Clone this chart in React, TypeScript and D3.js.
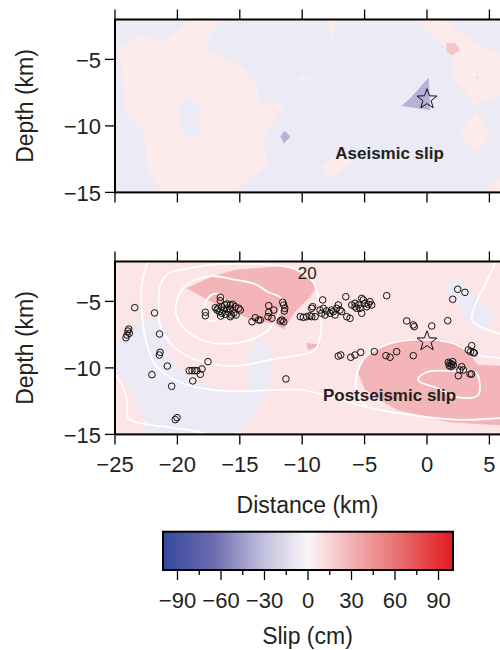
import React from 'react';
import * as d3 from 'd3';

// ---------- axes ----------
const X_DOMAIN: [number, number] = [-25, 10];
const DEPTH_DOMAIN: [number, number] = [-15, -2];
const X_TICKS = [-25, -20, -15, -10, -5, 0, 5];
const DEPTH_TICKS = [-5, -10, -15];
const SLIP_TICKS = [-90, -60, -30, 0, 30, 60, 90];
const SLIP_MINOR = [-75, -45, -15, 15, 45, 75];
const SLIP_RANGE: [number, number] = [-100, 100];
const HYPOCENTER: [number, number] = [0, -8];

// ---------- aseismic slip (cm) ----------
const aseismicBackground = -6;
const aseismicPatches: { slip: number; pts: [number, number][] }[] = [
  { slip: 5, pts: [[-24.74, -4.17], [-23.13, -3.17], [-21.13, -3.67], [-19.25, -2.29], [-19.25, -1.8], [-16.05, -1.8], [-17.39, -3.04], [-17.65, -4.42], [-16.19, -5.05], [-15.38, -5.17], [-14.45, -6.05], [-13.65, -7.05], [-13.52, -8.3], [-11.51, -8.43], [-13.12, -10.68], [-12.84, -12.94], [-14.18, -13.94], [-15.79, -15.2], [-21.13, -15.2], [-22.46, -12.94], [-22.6, -10.56], [-24.2, -8.93], [-24.33, -6.17]] },
  { slip: -6, pts: [[-20.06, -8.5], [-19.23, -7.83], [-18.19, -8.5], [-18.19, -10.68], [-19.23, -10.83], [-19.66, -10.23]] },
  { slip: -25, pts: [[-11.42, -10.38], [-10.98, -10.8], [-11.45, -11.31], [-11.72, -10.8]] },
  { slip: 5, pts: [[-8.04, -1.8], [-6.97, -1.8], [-7.64, -3.41]] },
  { slip: 5, pts: [[-10.34, -6.3], [-9.8, -6.15], [-9.24, -6.38], [-9.64, -6.68], [-10.34, -6.55]] },
  { slip: -25, pts: [[0.11, -6.42], [0.24, -8.8], [-2.03, -8.48], [-1.4, -8.0]] },
  { slip: 5, pts: [[-0.96, -1.8], [1.12, -1.8], [2.8, -3.09], [4.65, -4.17], [7.45, -5.2], [7.45, -6.92], [3.98, -8.43], [2.11, -6.3], [2.11, -4.52], [0.24, -3.17]] },
  { slip: 18, pts: [[1.58, -3.79], [2.24, -3.79], [2.64, -4.29], [1.98, -4.67], [1.58, -4.38]] },
  { slip: 18, pts: [[4.03, -6.3], [4.12, -6.38], [4.03, -6.46], [3.94, -6.38]] },
  { slip: 5, pts: [[3.98, -8.93], [5.05, -10.68], [3.98, -11.94], [2.64, -10.68]] },
  { slip: 5, pts: [[-8.44, -13.07], [-7.11, -12.19], [-6.03, -12.69], [-7.64, -13.94]] },
  { slip: 5, pts: [[4.25, -15.2], [5.85, -13.9], [7.45, -13.5], [7.45, -15.2]] },
];

// ---------- postseismic slip (cm) ----------
const postseismicBackground = 9;
const postseismicPatches: { slip: number; pts: [number, number][] }[] = [
  { slip: -6, pts: [[-25.2, -8.5], [-23.96, -7.45], [-23.0, -6.55], [-21.39, -6.4], [-20.91, -7.15], [-20.59, -9.03], [-19.79, -10.31], [-18.19, -11.21], [-15.95, -11.66], [-14.42, -11.81], [-14.34, -9.41], [-14.18, -8.65], [-13.54, -7.9], [-12.9, -7.9], [-12.58, -8.8], [-12.58, -11.06], [-13.22, -12.41], [-14.18, -13.77], [-15.3, -15.2], [-22.2, -15.2], [-22.52, -14.29], [-23.0, -13.17], [-23.8, -11.66], [-24.76, -10.31], [-25.2, -10.01]] },
  { slip: -6, pts: [[1.24, -4.02], [2.04, -3.14], [3.65, -4.27], [5.53, -6.27], [4.17, -7.4], [3.12, -6.32], [2.32, -5.02]] },
  { slip: 28, pts: [[-19.23, -4.02], [-17.23, -3.14], [-15.36, -2.64], [-11.62, -2.38], [-9.91, -2.77], [-8.84, -3.89], [-9.38, -4.65], [-10.58, -5.77], [-11.51, -7.08], [-12.18, -6.65], [-14.02, -6.4], [-14.56, -6.15], [-17.23, -5.02]] },
  { slip: 28, pts: [[-9.64, -8.15], [-8.57, -8.28], [-9.51, -8.65]] },
  { slip: 28, pts: [[-5.53, -10.31], [-4.97, -9.18], [-4.01, -8.5], [-2.16, -7.9], [0.48, -7.75], [1.84, -8.05], [2.8, -8.28], [4.09, -9.78], [5.85, -9.86], [7.45, -9.86], [7.45, -14.52], [5.85, -14.29], [4.49, -14.22], [1.84, -14.07], [-0.8, -13.47], [-2.32, -13.17], [-3.21, -12.71], [-4.97, -11.59]] },
];

// white contour lines of the slip model
const slipContours: { closed: boolean; pts: [number, number][] }[] = [
  { closed: true, pts: [[-17.39, -4.59], [-16.75, -4.44], [-16.27, -4.82], [-16.43, -5.79], [-16.99, -6.47], [-17.71, -6.32], [-17.87, -5.5]] },
  { closed: true, pts: [[-20.03, -4.89], [-19.47, -3.92], [-18.43, -3.32], [-17.23, -3.09], [-15.63, -3.32], [-13.78, -3.69], [-12.74, -4.29], [-11.62, -4.82], [-11.86, -5.87], [-12.74, -7.15], [-14.02, -7.83], [-16.43, -8.2], [-18.19, -7.83], [-19.47, -7.0], [-20.11, -5.95]] },
  { closed: true, pts: [[-20.7, -2.89], [-19.09, -2.51], [-17.23, -2.23], [-14.98, -2.15], [-12.42, -2.26], [-10.58, -2.56], [-9.13, -3.54], [-8.65, -4.89], [-8.49, -7.15], [-8.97, -8.65], [-10.18, -9.03], [-12.18, -9.33], [-15.14, -9.85], [-17.23, -9.71], [-19.07, -9.18], [-20.59, -8.13], [-21.39, -6.77], [-21.5, -5.05], [-21.37, -3.77]] },
  { closed: false, pts: [[-22.25, -1.7], [-22.7, -3.02], [-22.89, -4.27], [-22.84, -5.77], [-22.57, -7.77], [-21.77, -9.78], [-19.9, -11.04], [-17.23, -11.65], [-14.56, -11.74], [-11.88, -11.65], [-10.02, -11.65], [-7.37, -12.26], [-4.57, -13.01], [-0.8, -13.61], [2.64, -13.91], [5.85, -13.77], [7.45, -13.69]] },
  { closed: false, pts: [[7.45, -9.56], [5.85, -9.26], [4.01, -9.03], [2.24, -8.2], [0.48, -7.9], [-2.16, -7.98], [-4.01, -8.58], [-5.05, -9.33], [-5.61, -10.46], [-5.69, -11.51], [-5.37, -12.41], [-4.73, -12.94]] },
  { closed: false, pts: [[-25.2, -10.2], [-24.44, -11.29], [-24.04, -12.41], [-23.96, -13.77], [-23.0, -14.15], [-20.19, -14.52], [-18.19, -14.82], [-16.99, -15.2]] },
  { closed: false, pts: [[5.65, -1.7], [4.73, -3.62], [3.93, -5.12], [3.61, -6.47], [4.73, -7.08], [5.85, -7.45], [7.45, -7.9]] },
  { closed: true, pts: [[-0.72, -10.83], [0.0, -10.31], [1.84, -10.23], [3.93, -10.38], [4.09, -12.04], [2.4, -12.19], [0.8, -11.51], [-0.56, -11.06]] },
];
const contourLabel = { text: '20', x: -9.6, depth: -3.3 };

// aftershocks [distance km, depth km]
const aftershocks: [number, number][] = [
  [-23.42, -5.47], [-21.83, -5.87], [-23.9, -7.08], [-23.96, -7.23], [-23.85, -7.4], [-24.04, -7.53], [-24.12, -7.73],
  [-21.43, -7.45], [-21.39, -8.83], [-21.45, -9.03], [-20.81, -9.86], [-22.04, -10.51], [-20.46, -11.38], [-20.17, -13.89],
  [-20.03, -13.74], [-18.77, -10.98], [-19.05, -10.21], [-18.83, -10.21], [-18.61, -10.21], [-18.43, -10.21], [-18.03, -10.08],
  [-18.17, -10.48], [-17.55, -9.53], [-17.76, -5.82], [-17.76, -6.08],
  [-16.56, -4.69], [-16.56, -4.95], [-16.96, -5.47], [-16.75, -5.52], [-16.43, -5.4], [-16.21, -5.27], [-16.03, -5.2],
  [-15.76, -5.27], [-15.57, -5.22], [-15.36, -5.4], [-15.09, -5.52], [-14.96, -5.65], [-16.64, -5.77], [-16.43, -5.89],
  [-16.16, -5.97], [-15.89, -5.82], [-15.68, -6.02], [-15.49, -5.89], [-15.3, -6.02], [-16.03, -5.57], [-16.29, -5.65],
  [-15.76, -5.57], [-16.53, -6.1], [-15.76, -6.15], [-16.83, -5.65],
  [-13.76, -6.23], [-14.02, -6.53], [-13.49, -6.4], [-13.36, -6.4], [-12.68, -5.32], [-12.68, -5.82], [-12.28, -5.65],
  [-12.74, -6.15], [-12.42, -6.27], [-11.56, -5.07], [-11.48, -5.27], [-11.4, -5.52], [-11.43, -5.72], [-11.62, -6.4],
  [-11.48, -6.53], [-11.75, -6.47], [-10.15, -6.15], [-11.3, -10.83],
  [-9.91, -6.2], [-9.64, -6.15], [-9.38, -6.08], [-9.24, -6.15], [-8.97, -6.15], [-9.24, -5.52], [-9.16, -5.4],
  [-8.57, -5.65], [-8.44, -5.89], [-8.31, -5.52], [-8.17, -6.02], [-8.04, -5.72], [-7.77, -5.89], [-7.64, -5.65],
  [-7.51, -5.77], [-7.37, -6.02], [-7.24, -5.52], [-7.11, -5.27], [-6.97, -5.65], [-6.84, -5.77], [-8.36, -4.89],
  [-6.43, -6.15], [-6.17, -6.27], [-6.51, -4.65], [-6.03, -5.27], [-5.77, -5.14], [-5.63, -5.52], [-5.5, -5.27],
  [-5.23, -4.77], [-5.1, -4.89], [-4.97, -5.14], [-4.83, -5.4], [-4.7, -5.22], [-4.57, -5.02], [-4.43, -5.27],
  [-5.23, -5.89], [-5.37, -5.52], [-5.77, -5.4],
  [-3.23, -4.57], [-1.63, -6.47], [-1.1, -6.77], [-1.02, -6.9], [0.38, -6.85], [1.66, -6.45],
  [2.46, -4.09], [3.04, -4.32], [2.06, -4.84],
  [-7.11, -9.11], [-6.91, -9.03], [-6.11, -9.2], [-5.77, -9.03], [-5.31, -8.83], [-4.22, -8.78], [-3.29, -9.08],
  [-2.96, -9.2], [-2.43, -8.78], [-1.1, -9.08],
  [3.58, -8.33], [3.31, -8.65], [3.5, -8.78], [3.71, -8.83], [3.79, -8.88],
  [1.71, -9.58], [1.84, -9.65], [1.98, -9.73], [2.11, -9.78], [1.79, -9.83], [1.92, -9.91], [2.06, -9.53],
  [2.78, -9.91], [2.64, -10.16], [2.91, -10.16], [2.51, -10.59], [3.45, -10.46], [3.58, -10.46],
];

// ---------- styling ----------
const FONT = "'Liberation Sans', Arial, Helvetica, sans-serif";
const INK = '#231f20';
const W = 500;
const H = 650;
const PLOT_X: [number, number] = [115, 551.8];

const slipFill = d3
  .scaleThreshold<number, string>()
  .domain([-15, 0, 7, 15, 22])
  .range(['#B5B2D9', '#ECEBF5', '#FDEBEB', '#FCE5E6', '#F6C5C6', '#F3B5B7']);

const barColor = d3
  .scaleLinear<string>()
  .domain([-100, -65, -30, 0, 30, 65, 100])
  .range(['#34489d', '#6e6baf', '#c3c1de', '#fbf5f7', '#f3b2b4', '#e86a6b', '#e3191c'])
  .interpolate(d3.interpolateRgb);

const xScale = d3.scaleLinear().domain(X_DOMAIN).range(PLOT_X);

function starPath(cx: number, cy: number, R: number, r: number) {
  const pts: string[] = [];
  for (let i = 0; i < 10; i++) {
    const a = (-90 + i * 36) * (Math.PI / 180);
    const rad = i % 2 === 0 ? R : r;
    pts.push(`${cx + rad * Math.cos(a)},${cy + rad * Math.sin(a)}`);
  }
  return 'M' + pts.join('L') + 'Z';
}

type PanelProps = {
  id: string;
  y0: number;
  y1: number;
  background: number;
  patches: { slip: number; pts: [number, number][] }[];
  contours?: { closed: boolean; pts: [number, number][] }[];
  points?: [number, number][];
  title: string;
  xLabels: boolean;
};

function Panel({ id, y0, y1, background, patches, contours, points, title, xLabels }: PanelProps) {
  const yScale = d3.scaleLinear().domain(DEPTH_DOMAIN).range([y1, y0]);
  const poly = d3
    .line<[number, number]>()
    .x((d) => xScale(d[0]))
    .y((d) => yScale(d[1]))
    .curve(d3.curveLinearClosed);
  const smoothOpen = d3
    .line<[number, number]>()
    .x((d) => xScale(d[0]))
    .y((d) => yScale(d[1]))
    .curve(d3.curveCatmullRom.alpha(0.5));
  const smoothClosed = d3
    .line<[number, number]>()
    .x((d) => xScale(d[0]))
    .y((d) => yScale(d[1]))
    .curve(d3.curveCatmullRomClosed.alpha(0.5));
  const xl = PLOT_X[0];
  const wd = PLOT_X[1] - PLOT_X[0];
  const cy = (y0 + y1) / 2;
  return (
    <g>
      <defs>
        <clipPath id={id}>
          <rect x={xl} y={y0} width={wd} height={y1 - y0} />
        </clipPath>
      </defs>
      <g clipPath={`url(#${id})`}>
        <rect x={xl} y={y0} width={wd} height={y1 - y0} fill={slipFill(background)} />
        {patches.map((p, i) => (
          <path key={i} d={poly(p.pts) || ''} fill={slipFill(p.slip)} stroke={slipFill(p.slip)} strokeWidth={0.5} />
        ))}
        {contours &&
          contours.map((c, i) => (
            <path
              key={'c' + i}
              d={(c.closed ? smoothClosed(c.pts) : smoothOpen(c.pts)) || ''}
              fill="none"
              stroke="#ffffff"
              strokeWidth={1.8}
            />
          ))}
        {contours && (
          <text
            x={xScale(contourLabel.x)}
            y={yScale(contourLabel.depth)}
            textAnchor="middle"
            fontFamily={FONT}
            fontSize={17}
            fill={INK}
          >
            {contourLabel.text}
          </text>
        )}
        {points &&
          points.map((p, i) => (
            <circle key={'p' + i} cx={xScale(p[0])} cy={yScale(p[1])} r={3.3} fill="none" stroke="#111" strokeWidth={1} />
          ))}
        <path
          d={starPath(xScale(HYPOCENTER[0]), yScale(HYPOCENTER[1]), 10.5, 4.3)}
          fill="none"
          stroke="#111"
          strokeWidth={1}
        />
        <text
          x={xScale(-3)}
          y={yScale(-12.5)}
          textAnchor="middle"
          fontFamily={FONT}
          fontWeight="bold"
          fontSize={17}
          fill={INK}
        >
          {title}
        </text>
      </g>
      <rect x={xl} y={y0} width={wd} height={y1 - y0} fill="none" stroke="#000" strokeWidth={2} />
      {X_TICKS.map((t) => (
        <g key={'xt' + t}>
          <line x1={xScale(t)} x2={xScale(t)} y1={y0 - 10} y2={y0} stroke="#000" strokeWidth={1.3} />
          <line x1={xScale(t)} x2={xScale(t)} y1={y1} y2={y1 + 10} stroke="#000" strokeWidth={1.3} />
          {xLabels && (
            <text x={xScale(t)} y={472} textAnchor="middle" fontFamily={FONT} fontSize={22} fill={INK}>
              {t < 0 ? '\u2212' + Math.abs(t) : String(t)}
            </text>
          )}
        </g>
      ))}
      {DEPTH_TICKS.map((t) => (
        <g key={'yt' + t}>
          <line x1={xl - 10} x2={xl} y1={yScale(t)} y2={yScale(t)} stroke="#000" strokeWidth={1.3} />
          <text x={101} y={yScale(t) + 8.5} textAnchor="end" fontFamily={FONT} fontSize={22} fill={INK}>
            {'\u2212' + Math.abs(t)}
          </text>
        </g>
      ))}
      <text transform={`translate(33,${cy}) rotate(-90)`} textAnchor="middle" fontFamily={FONT} fontSize={23} fill={INK}>
        Depth (km)
      </text>
    </g>
  );
}

function ColorBar() {
  const bx = d3.scaleLinear().domain(SLIP_RANGE).range([163, 453]);
  const top = 531.7;
  const bottom = 570;
  const stops = d3.range(SLIP_RANGE[0], SLIP_RANGE[1] + 0.1, 5);
  return (
    <g>
      <defs>
        <linearGradient id="slipGrad" x1="0" x2="1" y1="0" y2="0">
          {stops.map((s) => (
            <stop key={s} offset={(s - SLIP_RANGE[0]) / (SLIP_RANGE[1] - SLIP_RANGE[0])} stopColor={barColor(s)} />
          ))}
        </linearGradient>
      </defs>
      <rect x={bx(SLIP_RANGE[0])} y={top} width={bx(SLIP_RANGE[1]) - bx(SLIP_RANGE[0])} height={bottom - top} fill="url(#slipGrad)" stroke="#000" strokeWidth={2} />
      {SLIP_TICKS.map((t) => (
        <g key={'s' + t}>
          <line x1={bx(t)} x2={bx(t)} y1={bottom} y2={bottom + 10} stroke="#000" strokeWidth={1.3} />
          <text x={bx(t)} y={608} textAnchor="middle" fontFamily={FONT} fontSize={22} fill={INK}>
            {t < 0 ? '\u2212' + Math.abs(t) : String(t)}
          </text>
        </g>
      ))}
      {SLIP_MINOR.map((t) => (
        <line key={'m' + t} x1={bx(t)} x2={bx(t)} y1={bottom} y2={bottom + 5} stroke="#000" strokeWidth={1.3} />
      ))}
      <text x={307.5} y={644} textAnchor="middle" fontFamily={FONT} fontSize={23} fill={INK}>
        Slip (cm)
      </text>
    </g>
  );
}

export default function App() {
  return (
    <svg
      width={W}
      height={H}
      viewBox={`0 0 ${W} ${H}`}
      style={{ position: 'absolute', left: 0, top: 0, background: '#fff' }}
    >
      <rect x={0} y={0} width={W} height={H} fill="#fff" />
      <Panel
        id="clipTop"
        y0={19.5}
        y1={192.4}
        background={aseismicBackground}
        patches={aseismicPatches}
        title="Aseismic slip"
        xLabels={false}
      />
      <Panel
        id="clipBot"
        y0={261.5}
        y1={434.4}
        background={postseismicBackground}
        patches={postseismicPatches}
        contours={slipContours}
        points={aftershocks}
        title="Postseismic slip"
        xLabels={true}
      />
      <text x={307.5} y={512.5} textAnchor="middle" fontFamily={FONT} fontSize={23} fill={INK}>
        Distance (km)
      </text>
      <ColorBar />
    </svg>
  );
}
